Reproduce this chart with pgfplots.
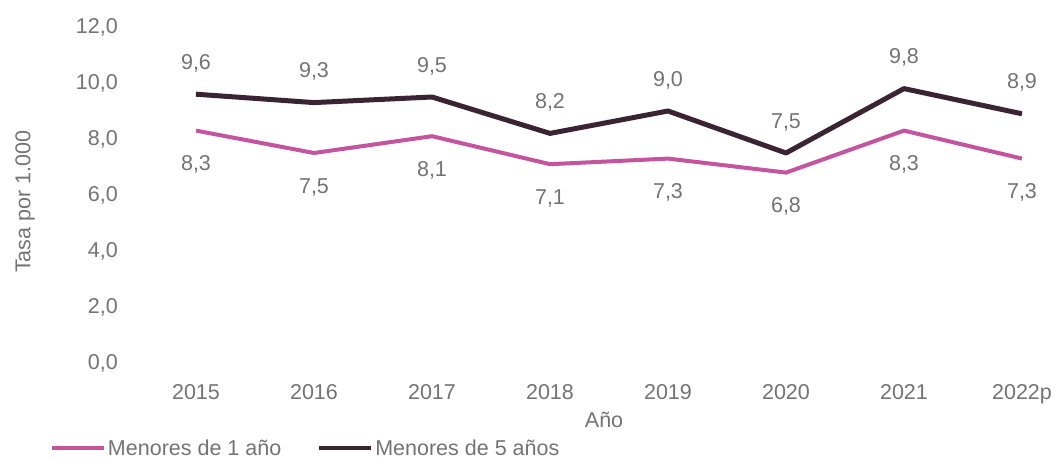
\documentclass[border=0pt]{standalone}
\usepackage{pgfplots}
\pgfplotsset{compat=1.18}
\usepackage{fontspec}
\setmainfont{Liberation Sans}
\definecolor{rosa}{RGB}{196,84,160}
\definecolor{oscuro}{RGB}{58,35,50}
\definecolor{texto}{RGB}{115,115,115}
\begin{document}
\begin{tikzpicture}
\path[use as bounding box] (-196pt,-97pt) rectangle (859pt,363pt);
\begin{axis}[
    at={(0pt,0pt)}, anchor=south west,
    scale only axis, width=826pt, height=336pt,
    xmin=0, xmax=7, ymin=0, ymax=12,
    axis line style={draw=none}, tick style={draw=none},
    font=\fontsize{21.5}{25}\selectfont\color{texto},
    xtick={0,...,7},
    xticklabels={2015,2016,2017,2018,2019,2020,2021,2022p},
    ytick={0,2,...,12},
    yticklabel style={anchor=east, inner sep=0pt, xshift=-78pt,
        /pgf/number format/fixed, /pgf/number format/fixed zerofill,
        /pgf/number format/precision=1, /pgf/number format/use comma},
    /pgf/number format/assume math mode=true,
    xticklabel style={anchor=north, inner sep=0pt, yshift=-21pt},
    xlabel={Año},
    xlabel style={at={(axis description cs:0.494,-0.170)}, anchor=center},
    ylabel={Tasa por 1.000},
    ylabel style={at={(axis description cs:-0.207,0.48)}, anchor=center},
    legend columns=2,
    legend style={at={(axis description cs:-0.177,-0.253)}, anchor=west, draw=none, fill=none,
        inner sep=0pt, font=\fontsize{21.5}{25}\selectfont\color{texto},
        /tikz/every odd column/.append style={column sep=0pt},
        /tikz/column 2/.style={column sep=34pt}},
    legend cell align=left,
    legend image code/.code={\draw[#1, line width=4pt] (0pt,0pt) -- (52pt,0pt);},
    nodes near coords={\pgfmathprintnumber[fixed,fixed zerofill,precision=1,use comma]{\pgfplotspointmeta}},
    every node near coord/.append style={font=\fontsize{21.5}{25}\selectfont, text=texto, anchor=center, inner sep=0pt},
]
\addplot[rosa, line width=4pt, line join=round,
    every node near coord/.append style={yshift=-34pt}]
    coordinates {(0,8.3) (1,7.5) (2,8.1) (3,7.1) (4,7.3) (5,6.8) (6,8.3) (7,7.3)};
\addlegendentry{Menores de 1 año}
\addplot[oscuro, line width=5pt, line join=round,
    every node near coord/.append style={yshift=31pt}]
    coordinates {(0,9.6) (1,9.3) (2,9.5) (3,8.2) (4,9.0) (5,7.5) (6,9.8) (7,8.9)};
\addlegendentry{Menores de 5 años}
\end{axis}
\end{tikzpicture}
\end{document}
